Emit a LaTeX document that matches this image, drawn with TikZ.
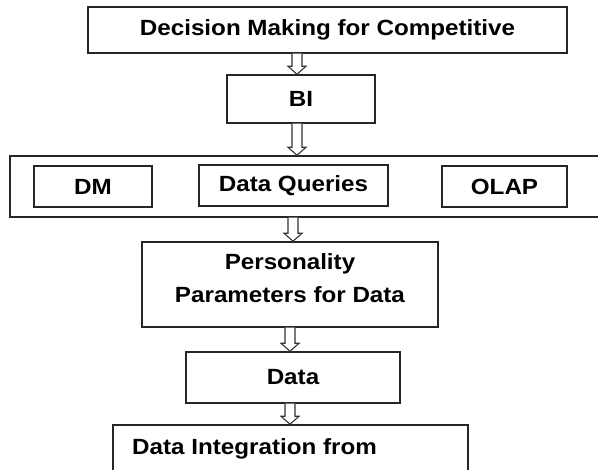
\documentclass[tikz,border=0pt]{standalone}
\usepackage{fontspec}
\setmainfont{Liberation Sans}[FakeStretch=1.1]
\usetikzlibrary{calc}
\tikzset{
  boxnode/.style={draw=black!85, line width=1.5pt, inner sep=0pt, font=\fontsize{22}{33}\selectfont\bfseries, align=center},
  arrowline/.style={draw=black!80, line width=1.1pt, fill=white, line join=miter},
  txt/.style={inner sep=0pt, font=\fontsize{22}{33}\selectfont\bfseries}
}
\newcommand\hollowarrow[2]{%
  \draw[arrowline] ($(#1)+(-5,0)$) -- ($(#2)+(-5,-8)$) -- ($(#2)+(-9,-8)$) -- (#2)
    -- ($(#2)+(9,-8)$) -- ($(#2)+(5,-8)$) -- ($(#1)+(5,0)$);}
\begin{document}
\begin{tikzpicture}[x=1pt,y=-1pt]
\clip (0,0) rectangle (598,470);
\fill[white] (0,0) rectangle (598,470);
% boxes
\node[boxnode, minimum width=479pt, minimum height=46pt] (b1) at (327.5,30) {Decision Making for Competitive};
\node[boxnode, minimum width=148pt, minimum height=48pt] (bi) at (301,99) {BI};
\node[boxnode, minimum width=590pt, minimum height=61pt] (cont) at (305,186.5) {};
\node[boxnode, minimum width=118pt, minimum height=41pt] (dm) at (93,186.5) {DM};
\node[boxnode, minimum width=189pt, minimum height=41pt] (dq) at (293.5,185.5) {Data Queries};
\node[boxnode, minimum width=125pt, minimum height=41pt] (olap) at (504.5,186.5) {OLAP};
\node[boxnode, minimum width=296pt, minimum height=85pt, text depth=1.2em] (pers) at (290,284.5) {Personality\\Parameters for Data};
\node[boxnode, minimum width=214pt, minimum height=51pt] (data) at (293,377.5) {Data};
\node[boxnode, minimum width=355pt, minimum height=60pt] (bot) at (290.5,455) {};
\node[txt, anchor=base west] (bottxt) at (132,455) {Data Integration from};
% arrows
\coordinate (a1s) at ([xshift=-30.5pt]b1.south);
\coordinate (a1e) at (a1s |- bi.north);
\hollowarrow{a1s}{a1e}
\coordinate (a2s) at ([xshift=-4pt]bi.south);
\coordinate (a2e) at (a2s |- cont.north);
\hollowarrow{a2s}{a2e}
\coordinate (a3s) at ([xshift=-12pt]cont.south);
\coordinate (a3e) at (a3s |- pers.north);
\hollowarrow{a3s}{a3e}
\coordinate (a4s) at (pers.south);
\coordinate (a4e) at (a4s |- data.north);
\hollowarrow{a4s}{a4e}
\coordinate (a5s) at ([xshift=-3pt]data.south);
\coordinate (a5e) at (a5s |- bot.north);
\hollowarrow{a5s}{a5e}
\end{tikzpicture}
\end{document}
